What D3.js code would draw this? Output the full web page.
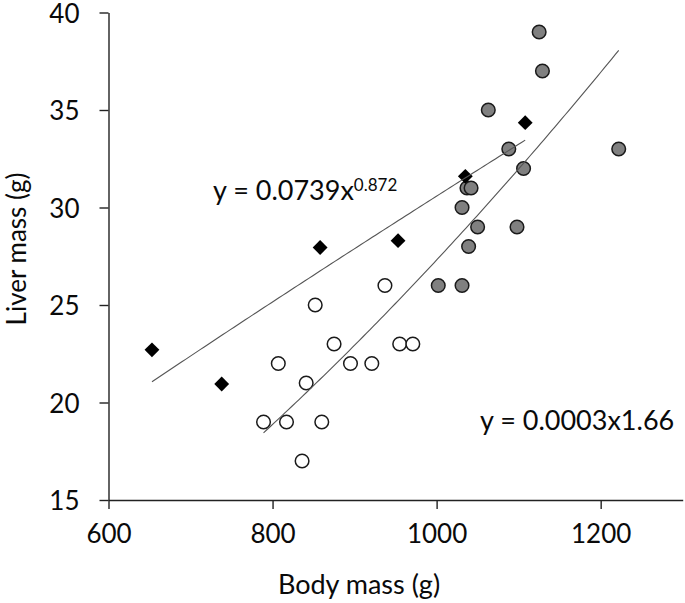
<!DOCTYPE html>
<html><head><meta charset="utf-8">
<script src="https://cdn.jsdelivr.net/npm/d3@7"></script>
<style>body{margin:0;background:#fff}svg{display:block}text{font-family:Lato,"Open Sans",sans-serif;fill:#0a0a0a}</style>
</head><body>
<svg id="c" width="685" height="603"></svg>
<script>
// Data
const diamondX = [653, 738, 858, 953, 1035, 1108];
const diamondY = [22.7, 20.95, 27.95, 28.3, 31.6, 34.35];
const openX = [852, 875, 807, 841, 789, 817, 860, 836, 937, 895, 921, 955, 971];
const openY = [25, 23, 22, 21, 19, 19, 19, 17, 26, 22, 22, 23, 23];
const grayX = [1002, 1031, 1125, 1129, 1063, 1088, 1222, 1106, 1037, 1042, 1031, 1050, 1098, 1039];
const grayY = [26, 26, 39, 37, 35, 33, 33, 32, 31, 31, 30, 29, 29, 28];
const xTicks = [600, 800, 1000, 1200];
const yTicks = [15, 20, 25, 30, 35, 40];
const xDomain = [600, 1300];
const yDomain = [15, 40];
const xTitle = "Body mass (g)";
const yTitle = "Liver mass (g)";
const eq1Main = "y = 0.0739x", eq1Sup = "0.872";
const eq2 = "y = 0.0003x1.66";

const svg = d3.select("#c");
const x = d3.scaleLinear().domain(xDomain).range([108.5, 682.7]);
const y = d3.scaleLinear().domain(yDomain).range([500, 12.5]);

// axes
const gx = svg.append("g").attr("transform", `translate(0,${y(15)})`)
  .call(d3.axisBottom(x).tickValues(xTicks).tickFormat(d3.format("d")).tickSize(9).tickSizeOuter(0).tickPadding(16));
const gy = svg.append("g").attr("transform", `translate(${x(600)},0)`)
  .call(d3.axisLeft(y).tickValues(yTicks).tickFormat(d3.format("d")).tickSize(9).tickSizeOuter(0).tickPadding(20));
[gx, gy].forEach(g => {
  g.select(".domain").attr("stroke", "#222").attr("stroke-width", 1.4);
  g.selectAll(".tick line").attr("stroke", "#222").attr("stroke-width", 1.4);
  g.selectAll(".tick text").attr("font-family", "Lato").attr("font-size", 26).attr("fill", "#0a0a0a");
});
gx.selectAll(".tick text").attr("dy", "0.68em");
gy.selectAll(".tick text").attr("dy", "0.38em");

svg.append("text").attr("x", 359).attr("y", 594).attr("text-anchor", "middle")
  .attr("font-size", 27).text(xTitle);
svg.append("text").attr("transform", "translate(26,249) rotate(-90)").attr("text-anchor", "middle")
  .attr("font-size", 26).text(yTitle);

// power fit via log-log least squares (as a spreadsheet trendline does)
function powerFit(xs, ys) {
  const lx = xs.map(Math.log), ly = ys.map(Math.log);
  const mx = d3.mean(lx), my = d3.mean(ly);
  const b = d3.sum(lx, (v, i) => (v - mx) * (ly[i] - my)) / d3.sum(lx, v => (v - mx) ** 2);
  const a = Math.exp(my - b * mx);
  return {a, b, lo: d3.min(xs), hi: d3.max(xs)};
}
const circX = openX.concat(grayX), circY = openY.concat(grayY);

// markers
const pts = (xs, ys) => xs.map((v, i) => [v, ys[i]]);
svg.append("g").selectAll("circle").data(pts(openX, openY)).join("circle")
  .attr("cx", d => x(d[0])).attr("cy", d => y(d[1])).attr("r", 6.8)
  .attr("fill", "#fff").attr("stroke", "#1a1a1a").attr("stroke-width", 1.5);
svg.append("g").selectAll("circle").data(pts(grayX, grayY)).join("circle")
  .attr("cx", d => x(d[0])).attr("cy", d => y(d[1])).attr("r", 6.8)
  .attr("fill", "#808080").attr("stroke", "#1a1a1a").attr("stroke-width", 1.5);
const sq = d3.symbol().type(d3.symbolSquare).size(110);
svg.append("g").selectAll("path").data(pts(diamondX, diamondY)).join("path")
  .attr("d", sq).attr("transform", d => `translate(${x(d[0])},${y(d[1])}) rotate(45)`)
  .attr("fill", "#000");

// trendlines
[powerFit(diamondX, diamondY), powerFit(circX, circY)].forEach(f => {
  const xs = d3.range(0, 101).map(i => f.lo + (f.hi - f.lo) * i / 100);
  svg.append("path").datum(xs)
    .attr("d", d3.line().x(v => x(v)).y(v => y(f.a * Math.pow(v, f.b))))
    .attr("fill", "none").attr("stroke", "#555").attr("stroke-width", 1.1);
});

// equations
const t1 = svg.append("text").attr("x", 213).attr("y", 200).attr("font-size", 27);
t1.append("tspan").text(eq1Main);
t1.append("tspan").attr("dy", -9.5).attr("font-size", 17).text(eq1Sup);
svg.append("text").attr("x", 480).attr("y", 430).attr("font-size", 27).text(eq2);
</script>
</body></html>
